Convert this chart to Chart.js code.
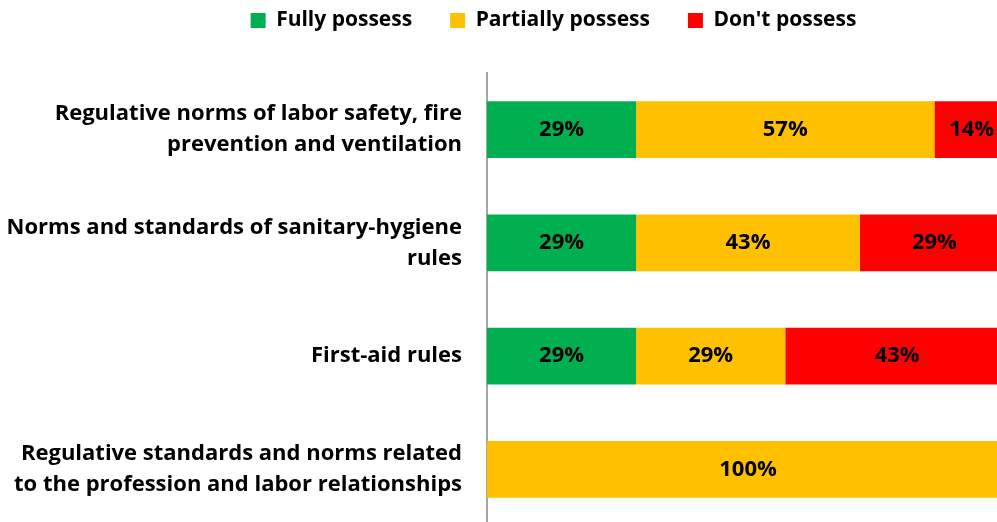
<!DOCTYPE html>
<html>
<head>
<meta charset="utf-8">
<script src="https://cdn.jsdelivr.net/npm/chart.js@4.4.1/dist/chart.umd.min.js"></script>
<style>
  html, body { margin: 0; padding: 0; background: #fff; overflow: hidden; }
  #wrap { width: 997px; height: 522px; overflow: hidden; position: relative; }
  #chart { position: absolute; left: 0; top: 0; }
</style>
</head>
<body>
<div id="wrap"><canvas id="chart" width="1009" height="582"></canvas></div>
<script>
// data (bars are sevenths: 2/7, 4/7, 1/7 ...)
const categories = [
  ["Regulative norms of labor safety, fire", "prevention and ventilation"],
  ["Norms and standards of sanitary-hygiene", "rules"],
  "First-aid rules",
  ["Regulative standards and norms related", "to the profession and labor relationships"]
];
const series_names = ["Fully possess", "Partially possess", "Don't possess"];
const fully_possess = [28.57, 28.57, 28.57, 0];
const partially_possess = [57.14, 42.86, 28.57, 100];
const dont_possess = [14.29, 28.57, 42.86, 0];
const series_colors = ["#00B050", "#FFC000", "#FF0000"];

const FONT = "'Open Sans', 'Liberation Sans', sans-serif";

// percent labels in the middle of each piece
const bar_labels = {
  id: "bar_labels",
  afterDatasetsDraw(chart) {
    const ctx = chart.ctx;
    ctx.save();
    ctx.font = "bold 22px " + FONT;
    ctx.fillStyle = "#000";
    ctx.textAlign = "center";
    ctx.textBaseline = "middle";
    chart.data.datasets.forEach((ds, i) => {
      const meta = chart.getDatasetMeta(i);
      meta.data.forEach((bar, j) => {
        const v = ds.data[j];
        if (!v) return;
        ctx.fillText(Math.round(v) + "%", (bar.x + bar.base) / 2, bar.y);
      });
    });
    ctx.restore();
  }
};

// legend sits a bit right of centre and high up, like the original
const legend_place = {
  id: "legend_place",
  beforeInit(chart) {
    const fit = chart.legend.fit;
    chart.legend.fit = function () {
      fit.call(this);
      this.height += 4;
    };
  },
  afterLayout(chart) {
    const lg = chart.legend;
    lg.left += 49;
    lg.right += 49;
    lg.top -= 28;
    lg.bottom -= 28;
  }
};

new Chart(document.getElementById("chart"), {
  type: "bar",
  data: {
    labels: categories,
    datasets: [
      { label: series_names[0], data: fully_possess, backgroundColor: series_colors[0] },
      { label: series_names[1], data: partially_possess, backgroundColor: series_colors[1] },
      { label: series_names[2], data: dont_possess, backgroundColor: series_colors[2] }
    ]
  },
  options: {
    indexAxis: "y",
    responsive: false,
    animation: false,
    devicePixelRatio: 1,
    datasets: {
      bar: { barPercentage: 0.5, categoryPercentage: 1, borderWidth: 0 }
    },
    scales: {
      x: { stacked: true, min: 0, max: 100, display: false },
      y: {
        stacked: true,
        grid: { display: false, drawTicks: false },
        border: { display: true, color: "#A6A6A6", width: 2 },
        ticks: {
          color: "#000",
          padding: 25,
          font: { family: FONT, size: 22, weight: "bold", lineHeight: "31px" }
        },
        afterFit(scale) { scale.width = 487; }
      }
    },
    plugins: {
      tooltip: { enabled: false },
      legend: {
        position: "top",
        labels: {
          color: "#000",
          boxWidth: 15,
          boxHeight: 15,
          padding: 38,
          font: { family: FONT, size: 21, weight: "bold" }
        }
      }
    }
  },
  plugins: [bar_labels, legend_place]
});
</script>
</body>
</html>
